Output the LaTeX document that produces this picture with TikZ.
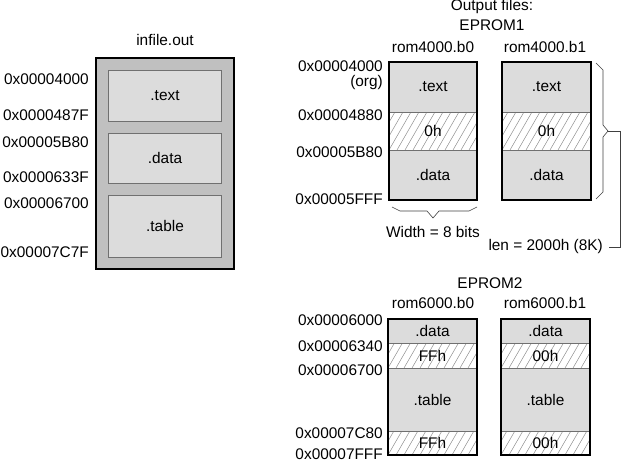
\documentclass[tikz,border=0pt]{standalone}
\usepackage{fontspec}
\setmainfont{Liberation Sans}
\definecolor{secfill}{HTML}{DCDCDC}
\definecolor{outfill}{HTML}{C0C0C0}
\definecolor{divgray}{HTML}{707070}
\definecolor{hatchgray}{HTML}{909090}
\tikzset{
  lbl/.style={font=\fontsize{15.4}{17}\selectfont, inner sep=0pt},
  secbox/.style={fill=secfill, draw=divgray, line width=0.9pt},
  outbox/.style={draw=black, line width=2pt},
  hatchline/.style={draw=hatchgray, line width=0.5pt},
  divline/.style={draw=divgray, line width=0.9pt},
  bracel/.style={draw=black!75, line width=0.6pt},
}
\newcommand\hatchrect[4]{% x1 y1 x2 y2 (y down)
  \begin{scope}
    \clip (#1,#2) rectangle (#3,#4);
    \fill[white] (#1,#2) rectangle (#3,#4);
    \foreach \hx in {-32,-24,...,100} \draw[hatchline] (#1+\hx,#4) -- ++(26,-45);
  \end{scope}}
\begin{document}
\begin{tikzpicture}[x=1pt,y=-1pt]
\useasboundingbox (0,0) rectangle (621,463);
% ---------- infile.out ----------
\node[lbl] (inftitle) at (165,40) {infile.out};
\draw[outbox, fill=outfill] (96,58) rectangle (234,269);
\node[secbox, minimum width=113pt, minimum height=51pt, inner sep=0pt, lbl] (itext) at (165,95.5) {.text};
\node[secbox, minimum width=113pt, minimum height=50pt, inner sep=0pt, lbl] (idata) at (165,158) {.data};
\node[secbox, minimum width=113pt, minimum height=62pt, inner sep=0pt, lbl] (itable) at (165,226) {.table};
\node[lbl, anchor=east] (la1) at (89,79) {0x00004000};
\node[lbl, anchor=east] (la2) at (89,115) {0x0000487F};
\node[lbl, anchor=east] (la3) at (89,142) {0x00005B80};
\node[lbl, anchor=east] (la4) at (89,177) {0x0000633F};
\node[lbl, anchor=east] (la5) at (89,203) {0x00006700};
\node[lbl, anchor=east] (la6) at (89,252) {0x00007C7F};
% ---------- EPROM1 ----------
\node[lbl] (outf) at (492,7) {Output files:};
\node[lbl] (ep1) at (492,25) {EPROM1};
\node[lbl] (r40b0) at (433,47) {rom4000.b0};
\node[lbl] (r40b1) at (545,47) {rom4000.b1};
\foreach \xa/\xb/\z/\nm in {389/477/0h/a, 502/591/0h/b}{
  \fill[secfill] (\xa,62) rectangle (\xb,200);
  \hatchrect{\xa}{112}{\xb}{150}
  \draw[divline] (\xa,112) -- (\xb,112) (\xa,150) -- (\xb,150);
  \draw[outbox] (\xa,62) rectangle (\xb,200);
  \node[lbl] (t\nm) at ({(\xa+\xb)/2},87) {.text};
  \node[lbl] (z\nm) at ({(\xa+\xb)/2},131) {\z};
  \node[lbl] (d\nm) at ({(\xa+\xb)/2},175) {.data};
}
\node[lbl, anchor=east] (ra1) at (383,66) {0x00004000};
\node[lbl, anchor=east] (ra1b) at (383,83) {(org)};
\node[lbl, anchor=east] (ra2) at (383,115) {0x00004880};
\node[lbl, anchor=east] (ra3) at (383,152) {0x00005B80};
\node[lbl, anchor=east] (ra4) at (383,199) {0x00005FFF};
% width brace
\draw[bracel] (392,207) -- (400,211) -- (427,211) -- (433,218) -- (439,211) -- (469,211) -- (477,207);
\node[lbl] (wid) at (433,232) {Width = 8 bits};
% length brace
\coordinate (lt) at (608,131);
\draw[bracel] (596,63) -- (603,70) -- (603,125) -- (lt) -- (603,137) -- (603,192) -- (596,199);
\node[lbl, anchor=east] (len) at (603,247) {len = 2000h (8K)};
\coordinate (lc1) at (620,131);
\coordinate (lc2) at (620,247);
\coordinate (lend) at (609,247);
\draw[bracel] (lt) -- (lc1) -- (lc2) -- (lend);
% ---------- EPROM2 ----------
\node[lbl] (ep2) at (490,283) {EPROM2};
\node[lbl] (r60b0) at (433,303) {rom6000.b0};
\node[lbl] (r60b1) at (545,303) {rom6000.b1};
\foreach \xa/\xb/\z/\nm in {388/477/FFh/c, 501/590/00h/d}{
  \fill[secfill] (\xa,319) rectangle (\xb,455);
  \hatchrect{\xa}{343}{\xb}{368}
  \hatchrect{\xa}{431}{\xb}{455}
  \draw[divline] (\xa,343) -- (\xb,343) (\xa,368) -- (\xb,368) (\xa,431) -- (\xb,431);
  \draw[outbox] (\xa,319) rectangle (\xb,455);
  \node[lbl] (e\nm) at ({(\xa+\xb)/2},331) {.data};
  \node[lbl] (f\nm) at ({(\xa+\xb)/2},355.5) {\z};
  \node[lbl] (g\nm) at ({(\xa+\xb)/2},399.5) {.table};
  \node[lbl] (h\nm) at ({(\xa+\xb)/2},443) {\z};
}
\node[lbl, anchor=east] (sa1) at (383,320) {0x00006000};
\node[lbl, anchor=east] (sa2) at (383,346) {0x00006340};
\node[lbl, anchor=east] (sa3) at (383,370) {0x00006700};
\node[lbl, anchor=east] (sa4) at (383,433) {0x00007C80};
\node[lbl, anchor=east] (sa5) at (383,454) {0x00007FFF};
\end{tikzpicture}
\end{document}
